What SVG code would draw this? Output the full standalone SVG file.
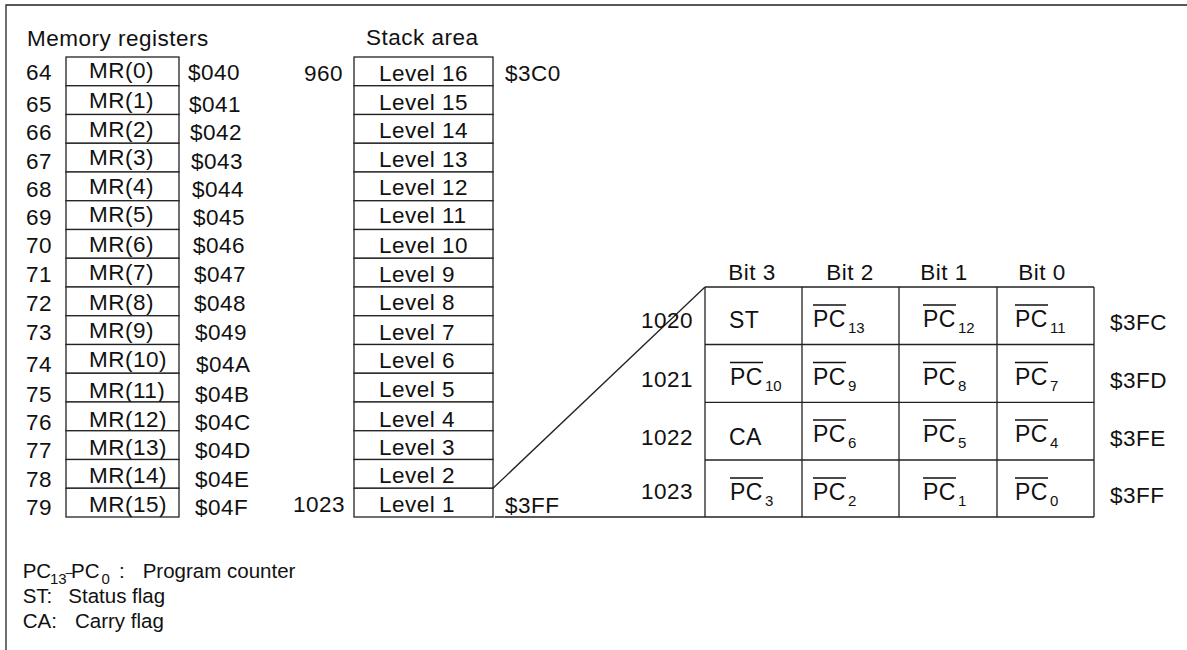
<svg xmlns="http://www.w3.org/2000/svg" width="1187" height="650" viewBox="0 0 1187 650">
<style>
text{font-family:"Liberation Sans",Arial,sans-serif;fill:#111;}
.t{font-size:22.5px;letter-spacing:0.5px;}
.c{font-size:23px;letter-spacing:0.5px;}
.s{font-size:15px;}
.lg{font-size:20.5px;}
.m{text-anchor:middle;}
.e{text-anchor:end;}
.box{fill:#fff;stroke:#222;stroke-width:1.3;}
.ln{stroke:#222;stroke-width:1.3;fill:none;}
.ov{stroke:#111;stroke-width:1.4;}
</style>
<rect width="1187" height="650" fill="#fff"/>
<g id="frame"><path class="ln" d="M6,650 V5 H1187"/></g>

<g id="memory-registers">
<text class="t" x="27" y="46">Memory registers</text>
<g id="mr0"><rect class="box" x="66" y="57" width="113" height="28.75"/><text class="t" x="26" y="80">64</text><text class="t" x="89" y="78.3">MR(0)</text><text class="t" x="188" y="80">$040</text></g>
<g id="mr1"><rect class="box" x="66" y="85.75" width="113" height="28.75"/><text class="t" x="26" y="111.7">65</text><text class="t" x="89" y="108.3">MR(1)</text><text class="t" x="189" y="111.7">$041</text></g>
<g id="mr2"><rect class="box" x="66" y="114.5" width="113" height="28.75"/><text class="t" x="26" y="140">66</text><text class="t" x="89" y="136.7">MR(2)</text><text class="t" x="190" y="140">$042</text></g>
<g id="mr3"><rect class="box" x="66" y="143.25" width="113" height="28.75"/><text class="t" x="26" y="169.3">67</text><text class="t" x="89" y="165">MR(3)</text><text class="t" x="191" y="169.3">$043</text></g>
<g id="mr4"><rect class="box" x="66" y="172" width="113" height="28.75"/><text class="t" x="26" y="197">68</text><text class="t" x="89" y="194">MR(4)</text><text class="t" x="192" y="197">$044</text></g>
<g id="mr5"><rect class="box" x="66" y="200.75" width="113" height="28.75"/><text class="t" x="26" y="225">69</text><text class="t" x="89" y="222">MR(5)</text><text class="t" x="193" y="225">$045</text></g>
<g id="mr6"><rect class="box" x="66" y="229.5" width="113" height="28.75"/><text class="t" x="26" y="253.3">70</text><text class="t" x="89" y="251.7">MR(6)</text><text class="t" x="193" y="253.3">$046</text></g>
<g id="mr7"><rect class="box" x="66" y="258.25" width="113" height="28.75"/><text class="t" x="26" y="281.7">71</text><text class="t" x="89" y="280">MR(7)</text><text class="t" x="194" y="281.7">$047</text></g>
<g id="mr8"><rect class="box" x="66" y="287" width="113" height="28.75"/><text class="t" x="26" y="310.7">72</text><text class="t" x="89" y="310">MR(8)</text><text class="t" x="194" y="310.7">$048</text></g>
<g id="mr9"><rect class="box" x="66" y="315.75" width="113" height="28.75"/><text class="t" x="26" y="340">73</text><text class="t" x="89" y="338.3">MR(9)</text><text class="t" x="195" y="340">$049</text></g>
<g id="mr10"><rect class="box" x="66" y="344.5" width="113" height="28.75"/><text class="t" x="26" y="371.7">74</text><text class="t" x="89" y="366.7">MR(10)</text><text class="t" x="196" y="371.7">$04A</text></g>
<g id="mr11"><rect class="box" x="66" y="373.25" width="113" height="28.75"/><text class="t" x="26" y="401.7">75</text><text class="t" x="89" y="398.3">MR(11)</text><text class="t" x="195" y="401.7">$04B</text></g>
<g id="mr12"><rect class="box" x="66" y="402" width="113" height="28.75"/><text class="t" x="26" y="430">76</text><text class="t" x="89" y="426.7">MR(12)</text><text class="t" x="195" y="430">$04C</text></g>
<g id="mr13"><rect class="box" x="66" y="430.75" width="113" height="28.75"/><text class="t" x="26" y="458.3">77</text><text class="t" x="89" y="455">MR(13)</text><text class="t" x="195" y="458.3">$04D</text></g>
<g id="mr14"><rect class="box" x="66" y="459.5" width="113" height="28.75"/><text class="t" x="26" y="486.7">78</text><text class="t" x="89" y="483.3">MR(14)</text><text class="t" x="195" y="486.7">$04E</text></g>
<g id="mr15"><rect class="box" x="66" y="488.25" width="113" height="28.75"/><text class="t" x="26" y="515">79</text><text class="t" x="89" y="511.7">MR(15)</text><text class="t" x="195" y="515">$04F</text></g>
</g>

<g id="stack-area">
<text class="t" x="366" y="45">Stack area</text>
<text class="t e" x="343" y="81">960</text>
<text class="t" x="505" y="81">$3C0</text>
<text class="t e" x="345" y="512">1023</text>
<text class="t" x="505" y="513">$3FF</text>
<g id="lv16"><rect class="box" x="354" y="57" width="139" height="28.75"/><text class="t" x="379" y="81">Level 16</text></g>
<g id="lv15"><rect class="box" x="354" y="85.75" width="139" height="28.75"/><text class="t" x="379" y="110">Level 15</text></g>
<g id="lv14"><rect class="box" x="354" y="114.5" width="139" height="28.75"/><text class="t" x="379" y="138.3">Level 14</text></g>
<g id="lv13"><rect class="box" x="354" y="143.25" width="139" height="28.75"/><text class="t" x="379" y="166.7">Level 13</text></g>
<g id="lv12"><rect class="box" x="354" y="172" width="139" height="28.75"/><text class="t" x="379" y="195">Level 12</text></g>
<g id="lv11"><rect class="box" x="354" y="200.75" width="139" height="28.75"/><text class="t" x="379" y="223">Level 11</text></g>
<g id="lv10"><rect class="box" x="354" y="229.5" width="139" height="28.75"/><text class="t" x="379" y="253">Level 10</text></g>
<g id="lv9"><rect class="box" x="354" y="258.25" width="139" height="28.75"/><text class="t" x="379" y="281.7">Level 9</text></g>
<g id="lv8"><rect class="box" x="354" y="287" width="139" height="28.75"/><text class="t" x="379" y="310">Level 8</text></g>
<g id="lv7"><rect class="box" x="354" y="315.75" width="139" height="28.75"/><text class="t" x="379" y="340">Level 7</text></g>
<g id="lv6"><rect class="box" x="354" y="344.5" width="139" height="28.75"/><text class="t" x="379" y="368.3">Level 6</text></g>
<g id="lv5"><rect class="box" x="354" y="373.25" width="139" height="28.75"/><text class="t" x="379" y="396.7">Level 5</text></g>
<g id="lv4"><rect class="box" x="354" y="402" width="139" height="28.75"/><text class="t" x="379" y="426.7">Level 4</text></g>
<g id="lv3"><rect class="box" x="354" y="430.75" width="139" height="28.75"/><text class="t" x="379" y="455">Level 3</text></g>
<g id="lv2"><rect class="box" x="354" y="459.5" width="139" height="28.75"/><text class="t" x="379" y="483.3">Level 2</text></g>
<g id="lv1"><rect class="box" x="354" y="488.25" width="139" height="28.75"/><text class="t" x="379" y="511.7">Level 1</text></g>
</g>

<g id="connectors">
<line class="ln" x1="493" y1="488.25" x2="705" y2="287"/>
<line class="ln" x1="495" y1="517" x2="1094" y2="517"/>
</g>

<g id="level1-detail">
<g id="grid">
<line class="ln" x1="705" y1="287" x2="1094" y2="287"/>
<line class="ln" x1="705" y1="344.5" x2="1094" y2="344.5"/>
<line class="ln" x1="705" y1="402.3" x2="1094" y2="402.3"/>
<line class="ln" x1="705" y1="460" x2="1094" y2="460"/>
<line class="ln" x1="705" y1="287" x2="705" y2="517"/>
<line class="ln" x1="802" y1="287" x2="802" y2="517"/>
<line class="ln" x1="899" y1="287" x2="899" y2="517"/>
<line class="ln" x1="997" y1="287" x2="997" y2="517"/>
<line class="ln" x1="1094" y1="287" x2="1094" y2="517"/>
</g>
<g id="headers">
<text class="t m" x="752" y="280">Bit 3</text>
<text class="t m" x="850" y="280">Bit 2</text>
<text class="t m" x="944" y="280">Bit 1</text>
<text class="t m" x="1042" y="280">Bit 0</text>
</g>
<g id="addresses">
<text class="t e" x="693" y="328">1020</text>
<text class="t e" x="693" y="386.7">1021</text>
<text class="t e" x="693" y="445">1022</text>
<text class="t e" x="693" y="499">1023</text>
<text class="t" x="1110" y="330">$3FC</text>
<text class="t" x="1110" y="388">$3FD</text>
<text class="t" x="1110" y="446">$3FE</text>
<text class="t" x="1110" y="503">$3FF</text>
</g>
<g id="row-1020">
<text class="c" x="729" y="328">ST</text>
<text class="c" x="813" y="327">PC</text><text class="s" x="848" y="333">13</text>
<text class="c" x="923" y="327">PC</text><text class="s" x="958" y="333">12</text>
<text class="c" x="1015" y="327">PC</text><text class="s" x="1050" y="333">11</text>
</g>
<g id="row-1021">
<text class="c" x="730" y="384.5">PC</text><text class="s" x="765" y="390.5">10</text>
<text class="c" x="813" y="384.5">PC</text><text class="s" x="848" y="390.5">9</text>
<text class="c" x="923" y="384.5">PC</text><text class="s" x="958" y="390.5">8</text>
<text class="c" x="1015" y="384.5">PC</text><text class="s" x="1050" y="390.5">7</text>
</g>
<g id="row-1022">
<text class="c" x="729" y="445">CA</text>
<text class="c" x="813" y="442">PC</text><text class="s" x="848" y="448">6</text>
<text class="c" x="923" y="442">PC</text><text class="s" x="958" y="448">5</text>
<text class="c" x="1015" y="442">PC</text><text class="s" x="1050" y="448">4</text>
</g>
<g id="row-1023">
<text class="c" x="730" y="500">PC</text><text class="s" x="765" y="506">3</text>
<text class="c" x="813" y="500">PC</text><text class="s" x="848" y="506">2</text>
<text class="c" x="923" y="500">PC</text><text class="s" x="958" y="506">1</text>
<text class="c" x="1015" y="500">PC</text><text class="s" x="1050" y="506">0</text>
</g>
<g id="overlines">
<line class="ov" x1="813" y1="305" x2="846" y2="305"/>
<line class="ov" x1="923" y1="305" x2="956" y2="305"/>
<line class="ov" x1="1015" y1="305" x2="1048" y2="305"/>
<line class="ov" x1="730" y1="362.5" x2="763" y2="362.5"/>
<line class="ov" x1="813" y1="362.5" x2="846" y2="362.5"/>
<line class="ov" x1="923" y1="362.5" x2="956" y2="362.5"/>
<line class="ov" x1="1015" y1="362.5" x2="1048" y2="362.5"/>
<line class="ov" x1="813" y1="420" x2="846" y2="420"/>
<line class="ov" x1="923" y1="420" x2="956" y2="420"/>
<line class="ov" x1="1015" y1="420" x2="1048" y2="420"/>
<line class="ov" x1="730" y1="478" x2="763" y2="478"/>
<line class="ov" x1="813" y1="478" x2="846" y2="478"/>
<line class="ov" x1="923" y1="478" x2="956" y2="478"/>
<line class="ov" x1="1015" y1="478" x2="1048" y2="478"/>
</g>
</g>

<g id="legend">
<text class="lg" x="22.7" y="578">PC</text><text class="s" x="50" y="584">13</text><text x="65.5" y="577" style="font-size:13px">–</text><text class="lg" x="71" y="578">PC</text><text class="s" x="101.5" y="583.5">0</text><text class="lg" x="119" y="578">:</text><text class="lg" x="142.7" y="578">Program counter</text>
<text class="lg" x="22.7" y="603.3">ST:</text><text class="lg" x="68.3" y="603.3">Status flag</text>
<text class="lg" x="22.7" y="628.3">CA:</text><text class="lg" x="75" y="628.3">Carry flag</text>
</g>
</svg>
